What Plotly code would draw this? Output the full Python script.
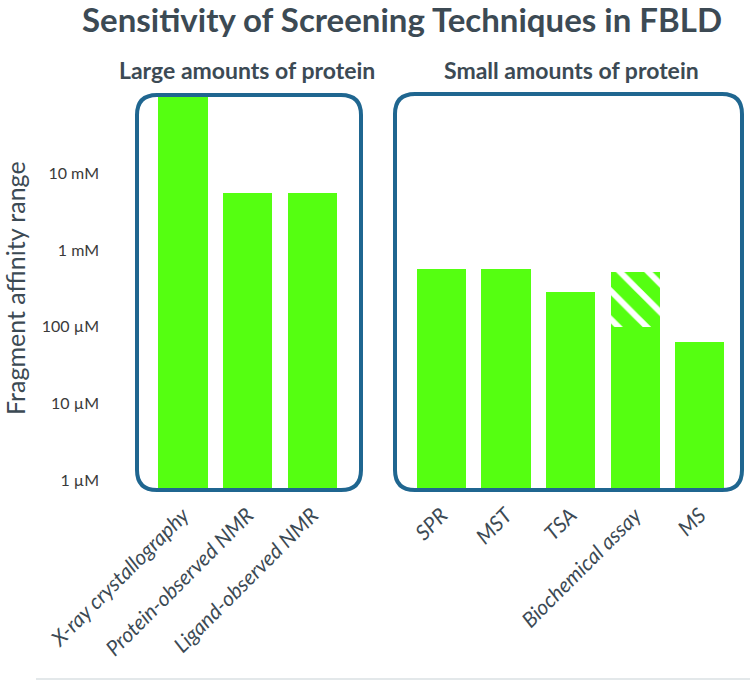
import plotly.graph_objects as go

# ---- data ----
large_techniques = ["X-ray crystallography", "Protein-observed NMR", "Ligand-observed NMR"]
small_techniques = ["SPR", "MST", "TSA", "Biochemical assay", "MS"]
large_values_uM = [100000, 5500, 5500]          # upper affinity limit (µM)
small_values_uM = [560, 560, 285, 520, 63]
biochem_solid_uM = 100                           # solid part of the biochemical assay bar
tick_vals_uM = [1, 10, 100, 1000, 10000]
tick_text = ["1 µM", "10 µM", "100 µM", "1 mM", "10 mM"]

GREEN = "#55FF11"
BOX = "#1f6690"
TEXT = "#3c4a54"
FONT = "Lato"

categories = large_techniques + small_techniques
values = large_values_uM + small_values_uM
positions = list(range(len(large_techniques))) + [len(large_techniques) + 1 + i for i in range(len(small_techniques))]
bio_idx = categories.index("Biochemical assay")

W, H = 750, 680
ml, mr, mt, mb = 130, 2, 93, 190
pw, ph = W - ml - mr, H - mt - mb

fig = go.Figure()
fig.add_trace(go.Bar(x=positions, y=values, width=0.76, marker=dict(color=GREEN, line=dict(width=0)),
                     hoverinfo="skip", showlegend=False))
fig.add_trace(go.Bar(x=[positions[bio_idx]], y=[values[bio_idx] - biochem_solid_uM], base=[biochem_solid_uM],
                     width=0.76,
                     marker=dict(color=GREEN, line=dict(width=0),
                                 pattern=dict(shape="\\", fgcolor="white", bgcolor=GREEN,
                                              size=20, solidity=0.3, fillmode="replace")),
                     hoverinfo="skip", showlegend=False))


def px_to_paper(xp, yp):
    return (xp - ml) / pw, (H - mb - yp) / ph


def rounded_box(x0p, y0p, x1p, y1p, r=20):
    # pixel coordinates -> paper path with rounded corners
    def P(x, y):
        a, b = px_to_paper(x, y)
        return f"{a:.5f},{b:.5f}"
    return (f"M {P(x0p + r, y0p)} L {P(x1p - r, y0p)} Q {P(x1p, y0p)} {P(x1p, y0p + r)} "
            f"L {P(x1p, y1p - r)} Q {P(x1p, y1p)} {P(x1p - r, y1p)} "
            f"L {P(x0p + r, y1p)} Q {P(x0p, y1p)} {P(x0p, y1p - r)} "
            f"L {P(x0p, y0p + r)} Q {P(x0p, y0p)} {P(x0p + r, y0p)} Z")


shapes = [
    dict(type="path", xref="paper", yref="paper", path=rounded_box(137, 95, 361, 490),
         line=dict(color=BOX, width=4), layer="above"),
    dict(type="path", xref="paper", yref="paper", path=rounded_box(395, 94, 742, 490),
         line=dict(color=BOX, width=4), layer="above"),
]
bx0, by = px_to_paper(36, 679)
bx1, _ = px_to_paper(750, 679)
shapes.append(dict(type="line", xref="paper", yref="paper", x0=bx0, x1=bx1, y0=by, y1=by,
                   line=dict(color="#e3e8ea", width=2)))

annotations = []
for label, cx in [("Large amounts of protein", 247), ("Small amounts of protein", 571)]:
    ax, ay = px_to_paper(cx, 70)
    annotations.append(dict(text=label, x=ax, y=ay, xref="paper", yref="paper", showarrow=False,
                            xanchor="center", yanchor="middle",
                            font=dict(family=FONT, size=23, color=TEXT, weight="bold")))
tx, ty = px_to_paper(15, 288)
annotations.append(dict(text="Fragment affinity range", x=tx, y=ty, xref="paper", yref="paper",
                        showarrow=False, textangle=-90, xanchor="center", yanchor="middle",
                        font=dict(family=FONT, size=25, color=TEXT)))

x_lo = -(183 - ml) / 64.6
x_hi = x_lo + pw / 64.6

fig.update_layout(
    width=W, height=H,
    margin=dict(l=ml, r=mr, t=mt, b=mb, pad=0),
    paper_bgcolor="white", plot_bgcolor="white",
    barmode="overlay", bargap=0,
    title=dict(text="<b>Sensitivity of Screening Techniques in FBLD</b>", x=402 / W, xref="container",
               xanchor="center", y=1 - 9 / H, yref="container", yanchor="top",
               font=dict(family=FONT, size=33, color=TEXT)),
    xaxis=dict(range=[x_lo, x_hi], tickvals=positions, ticktext=categories, tickangle=-45,
               showgrid=False, zeroline=False, showline=False, ticks="", ticklabelstandoff=8,
               tickfont=dict(family=FONT, size=21, color=TEXT, style="italic")),
    yaxis=dict(type="log", range=[-0.130, 5.046], tickvals=tick_vals_uM, ticktext=tick_text,
               showgrid=False, zeroline=False, showline=False, ticks="", ticklabelstandoff=30,
               tickfont=dict(family=FONT, size=16, color="#3a3a3a")),
    shapes=shapes, annotations=annotations,
)

fig.write_html("out.html", config={"displayModeBar": False},
               post_script="document.body.style.margin='0';document.body.style.overflow='hidden';")
